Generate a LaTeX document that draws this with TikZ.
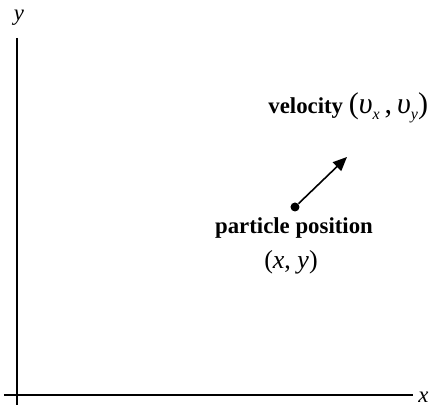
\documentclass[tikz,border=0pt]{standalone}
\usepackage{fontspec}
\setmainfont{Liberation Serif}
\usepackage{tikz}
\usetikzlibrary{arrows.meta,positioning}
\newcommand{\vsub}[1]{\textit{υ}\raisebox{-0.45ex}{\fontsize{8}{9}\selectfont\textit{#1}}}

\begin{document}
\begin{tikzpicture}[x=0.5pt,y=-0.5pt,font=\fontsize{11.4}{13.5}\selectfont,
  ax/.style={line width=0.8pt},
  lbl/.style={inner sep=0pt,align=center},
  arr/.style={-{Triangle[length=7pt,width=6pt]},line width=0.8pt}]
\useasboundingbox (0,0) rectangle (430,410);
\draw[ax] (17,38) coordinate (ytop) -- (17,405);
\draw[ax] (4,395) -- (413,395) coordinate (xend);
\node[lbl] (ylab) at (19,18) {\textit{y}};
\node[lbl,anchor=east] (xlab) at (429,397) {\textit{x}};
\node[circle,fill,inner sep=0pt,minimum size=4.5pt] (pos) at (295,207) {};
\coordinate (vtip) at (347,157);
\draw[arr] (pos)--(vtip);
\node[lbl,anchor=west] (vel) at (268,108) {\textbf{velocity} {\fontsize{15}{17}\selectfont(\vsub{x}\,,\,\vsub{y})}};
\node[lbl] (plab) at (294,228) {\textbf{particle position}};
\node[lbl] (xy) at (291,262) {{\fontsize{13}{15}\selectfont(\textit{x}, \textit{y})}};
\end{tikzpicture}
\end{document}
